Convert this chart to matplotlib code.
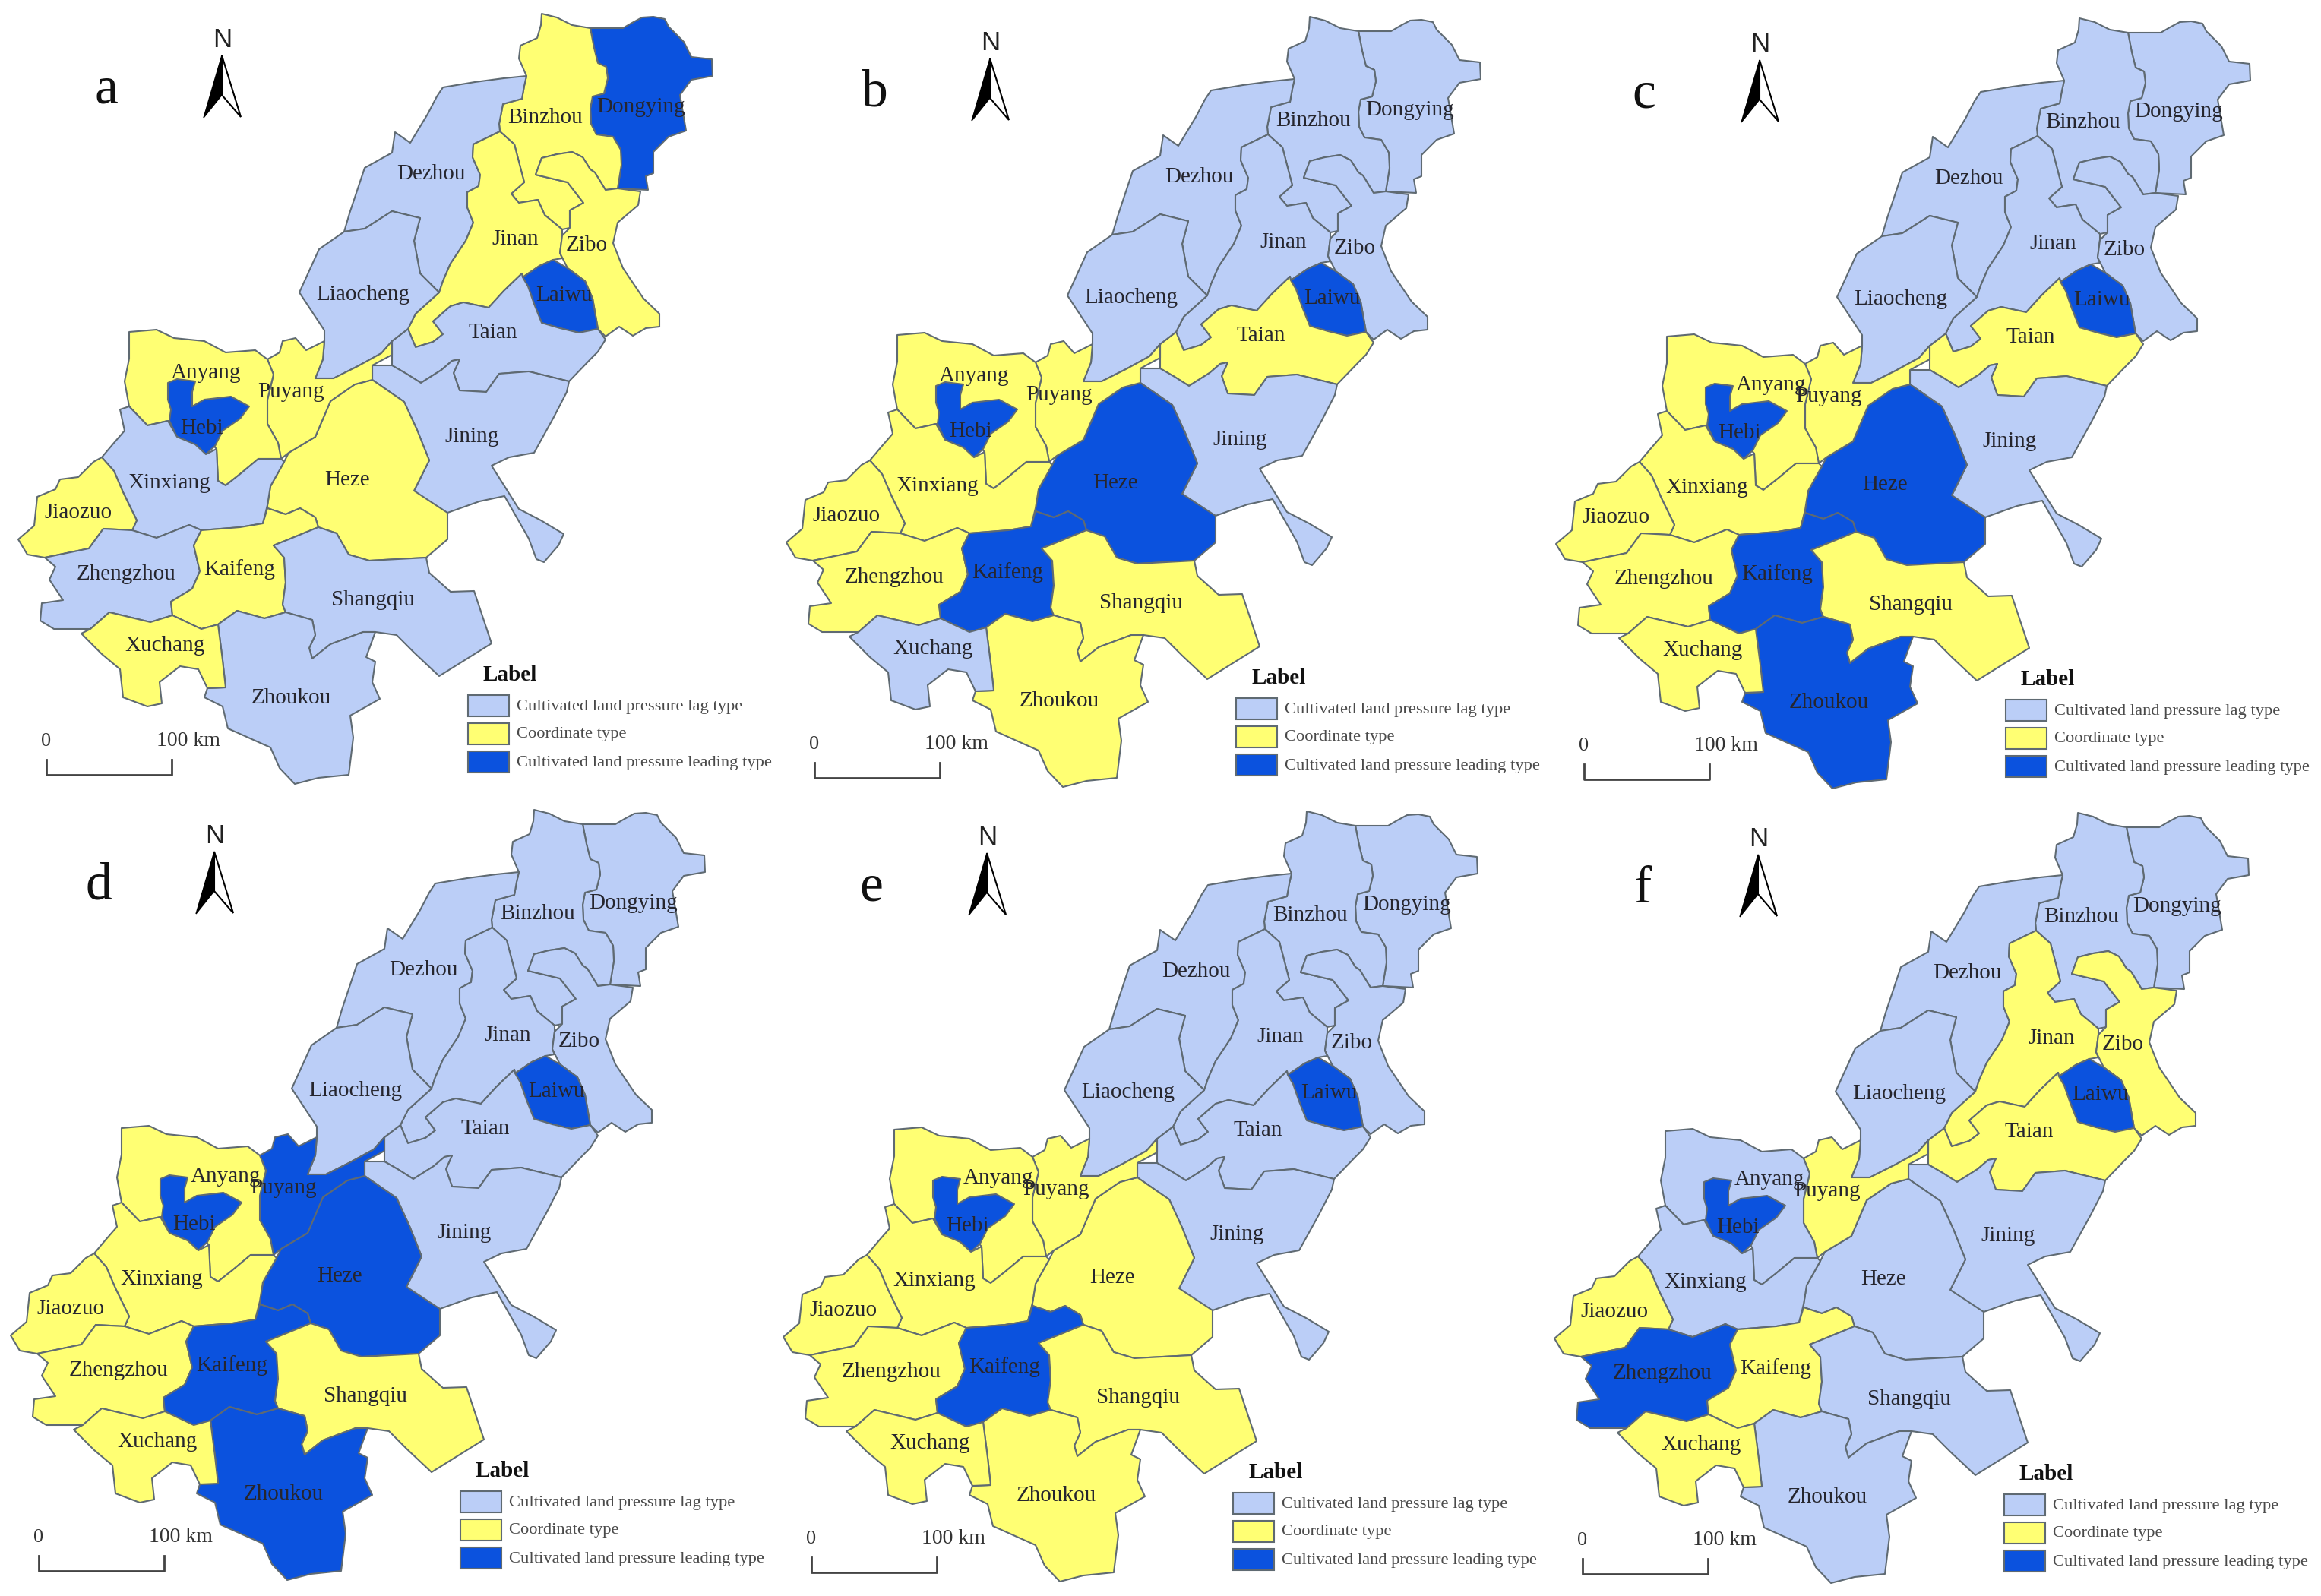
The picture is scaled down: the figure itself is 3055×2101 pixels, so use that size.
import matplotlib
matplotlib.use('Agg')
import matplotlib.pyplot as plt
from matplotlib.patches import Polygon, Rectangle

plt.rcParams['font.family'] = ['Liberation Serif', 'DejaVu Serif']

# outlines of the cities (pixels of the picture)
dongying = [(777,37),(795,37),(820,37),(832,30),(845,23),(860,22),(875,25),(880,35),(900,55),(910,75),(937,78),(938,100),
            (910,105),(895,125),(903,172),(880,180),(860,200),(860,228),(850,232),(853,250),(813,248),(818,217),(817,197),
            (807,180),(785,177),(778,163),(777,143),(780,127),(795,123),(800,103),(798,88),(787,83),(782,63)]
binzhou = [(713,18),(733,23),(753,33),(777,37),(782,63),(787,83),(798,88),(800,103),(795,123),(780,127),(777,143),(778,163),
           (785,177),(807,180),(817,197),(818,217),(813,248),(797,250),(783,227),(777,223),(767,207),(753,200),(733,203),
           (713,208),(705,230),(747,240),(768,267),(750,277),(750,300),(740,302),(717,283),(708,263),(683,267),(673,255),
           (690,240),(683,213),(677,190),(658,173),(657,163),(662,137),(687,130),(690,113),(693,100),(683,77),(685,60),
           (707,50),(712,33)]
zibo = [(813,248),(843,252),(840,270),(813,293),(807,320),(820,353),(847,393),(868,413),(868,430),(850,432),(833,442),
        (815,430),(797,443),(787,433),(780,393),(770,370),(747,353),(737,333),(740,310),(750,300),(750,277),(768,267),
        (747,240),(705,230),(713,208),(733,203),(753,200),(767,207),(777,223),(783,227),(797,250)]
laiwu = [(688,365),(710,350),(728,342),(747,353),(770,370),(780,393),(787,433),(762,438),(737,432),(713,425),(703,400),(695,377)]
jinan = [(658,173),(623,190),(622,207),(632,230),(630,245),(615,253),(615,273),(623,293),(613,317),(593,347),(583,370),
         (578,385),(547,413),(537,433),(547,457),(570,450),(583,440),(570,423),(593,403),(610,398),(643,405),(663,383),
         (687,360),(688,365),(710,350),(728,342),(740,340),(737,333),(740,310),(740,302),(717,283),(708,263),(683,267),
         (673,255),(690,240),(683,213),(677,190)]
dezhou = [(693,100),(663,103),(625,108),(583,115),(575,127),(563,150),(540,188),(520,174),(516,201),(480,221),(460,281),
          (453,305),(480,301),(516,278),(553,287),(545,317),(553,360),(578,385),(583,370),(593,347),(613,317),(623,293),
          (615,273),(615,253),(630,245),(632,230),(622,207),(623,190),(658,173),(657,163),(662,137),(687,130),(690,113)]
liaocheng = [(453,305),(480,301),(516,278),(553,287),(545,317),(553,360),(578,385),(547,413),(537,433),(516,449),(502,465),
             (471,482),(439,498),(415,498),(425,473),(427,449),(427,435),(394,385),(420,328)]
taian = [(537,433),(547,457),(570,450),(583,440),(570,423),(593,403),(610,398),(643,405),(663,383),(687,360),(688,365),
         (695,377),(703,400),(713,425),(737,432),(762,438),(787,433),(797,447),(787,463),(777,473),(749,502),(696,489),
         (657,492),(640,516),(605,514),(597,491),(605,473),(595,475),(581,487),(554,504),(535,492),(516,481),(516,467),(516,449)]
jining = [(490,481),(516,481),(535,492),(554,504),(581,487),(595,475),(605,473),(597,491),(605,514),(640,516),(657,492),
          (696,489),(749,502),(746,516),(729,549),(703,596),(670,602),(647,613),(683,670),(712,685),(742,703),(735,718),
          (716,740),(706,736),(696,709),(664,653),(631,660),(589,675),(565,665),(545,646),(565,606),(549,566),(532,529),(490,500)]
heze = [(490,500),(532,529),(549,566),(565,606),(545,646),(589,675),(589,710),(561,734),(486,738),(459,730),(443,702),
        (419,694),(415,681),(395,669),(376,677),(352,669),(352,665),(356,640),(374,608),(380,596),(415,575),(435,528),(467,506)]
puyang = [(352,473),(368,464),(372,449),(389,445),(403,461),(427,449),(425,473),(415,498),(439,498),(471,482),(502,465),
          (516,449),(516,467),(490,481),(490,500),(467,506),(435,528),(415,575),(380,596),(370,604),(366,583),(352,558),
          (352,526),(360,493)]
anyang = [(170,437),(206,434),(229,445),(269,449),(297,464),(336,461),(352,473),(360,493),(352,526),(352,558),(366,583),
          (370,604),(340,604),(316,624),(297,639),(287,633),(285,591),(275,580),(221,554),(194,560),(170,535),(164,502),(170,472)]
hebi = [(221,504),(233,499),(257,502),(253,516),(253,535),(269,526),(304,522),(328,535),(316,551),(293,567),(283,587),
        (271,598),(257,585),(233,575),(223,554),(225,539),(221,526)]
xinxiang = [(158,539),(170,535),(194,560),(221,554),(233,575),(257,585),(271,598),(285,591),(287,633),(297,639),(316,624),
            (340,604),(370,604),(374,608),(356,640),(352,665),(346,689),(316,694),(265,698),(249,691),(206,708),(174,698),
            (180,685),(162,648),(150,620),(134,602),(150,583),(164,567)]
jiaozuo = [(134,602),(150,620),(162,648),(180,685),(174,698),(136,696),(117,722),(59,734),(36,730),(24,710),(45,692),
           (49,654),(73,644),(79,631),(103,628),(123,608)]
zhengzhou = [(136,696),(174,698),(206,708),(249,691),(265,698),(255,718),(263,752),(253,775),(225,792),(227,810),(198,819),
             (144,806),(119,828),(71,828),(53,817),(55,794),(83,790),(65,763),(73,746),(59,734),(117,722)]
kaifeng = [(265,698),(316,694),(346,689),(352,669),(376,677),(395,669),(415,681),(419,694),(380,710),(360,718),(374,734),
           (376,767),(372,796),(376,806),(348,814),(312,804),(287,822),(265,828),(227,810),(225,792),(253,775),(263,752),(255,718)]
shangqiu = [(419,694),(443,702),(459,730),(486,738),(561,734),(565,754),(593,779),(624,778),(647,847),(578,890),(545,859),
            (522,836),(494,832),(478,832),(435,848),(411,867),(407,853),(415,836),(411,816),(376,806),(372,796),(376,767),
            (374,734),(360,718),(380,710)]
zhoukou = [(287,822),(312,804),(348,814),(376,806),(411,816),(415,836),(407,853),(411,867),(435,848),(478,832),(494,832),
           (482,865),(494,871),(490,898),(500,920),(461,942),(465,971),(459,1020),(419,1024),(388,1032),(368,1011),(356,984),
           (300,959),(293,930),(269,918),(273,906),(297,905),(293,869)]
xuchang = [(287,822),(293,869),(297,905),(273,906),(261,881),(237,877),(210,898),(213,926),(194,930),(162,918),(158,881),
           (134,861),(107,834),(119,828),(144,806),(198,819),(227,810),(265,828)]

names = ['Dongying', 'Binzhou', 'Dezhou', 'Jinan', 'Zibo', 'Laiwu', 'Taian', 'Liaocheng', 'Jining', 'Heze', 'Puyang',
         'Anyang', 'Hebi', 'Xinxiang', 'Jiaozuo', 'Zhengzhou', 'Kaifeng', 'Shangqiu', 'Zhoukou', 'Xuchang']
outlines = [dongying, binzhou, dezhou, jinan, zibo, laiwu, taian, liaocheng, jining, heze, puyang,
            anyang, hebi, xinxiang, jiaozuo, zhengzhou, kaifeng, shangqiu, zhoukou, xuchang]
label_x = [844, 718, 567, 678, 772, 742, 649, 478, 621, 457, 383, 271, 266, 223, 103, 166, 315, 491, 383, 217]
label_y = [141, 155, 229, 315, 323, 389, 438, 388, 575, 632, 516, 491, 564, 636, 675, 756, 750, 790, 919, 850]

# type of each city per panel, same order as names: 0 lag, 1 coordinate, 2 leading
panel_a = [2, 1, 0, 1, 1, 2, 0, 0, 0, 1, 1, 1, 2, 0, 1, 0, 1, 0, 0, 1]
panel_b = [0, 0, 0, 0, 0, 2, 1, 0, 0, 2, 1, 1, 2, 1, 1, 1, 2, 1, 1, 0]
panel_c = [0, 0, 0, 0, 0, 2, 1, 0, 0, 2, 1, 1, 2, 1, 1, 1, 2, 1, 2, 1]
panel_d = [0, 0, 0, 0, 0, 2, 0, 0, 0, 2, 2, 1, 2, 1, 1, 1, 2, 1, 2, 1]
panel_e = [0, 0, 0, 0, 0, 2, 0, 0, 0, 1, 1, 1, 2, 1, 1, 1, 2, 1, 1, 1]
panel_f = [0, 0, 0, 1, 1, 2, 1, 0, 0, 0, 1, 0, 2, 0, 1, 2, 1, 0, 0, 1]
panels = [panel_a, panel_b, panel_c, panel_d, panel_e, panel_f]
letters = ['a', 'b', 'c', 'd', 'e', 'f']
shift_x = [0, 1011, 2024, -10, 1007, 2022]
shift_y = [0, 4, 6, 1048, 1050, 1052]
anyang_moved = [False, False, True, True, True, True]

legend_names = ['Cultivated land pressure lag type', 'Coordinate type', 'Cultivated land pressure leading type']
colors = ['#BBCEF7', '#FFFF73', '#0B52DE']
edge = '#5f6a72'
text_col = '#26262e'

fig = plt.figure(figsize=(30.55, 21.01), dpi=100)
ax = fig.add_axes([0, 0, 1, 1])
ax.set_xlim(0, 3055)
ax.set_ylim(2101, 0)
ax.axis('off')

for p in range(6):
    dx = shift_x[p]
    dy = shift_y[p]

    for i in range(len(names)):
        pts = [(x + dx, y + dy) for x, y in outlines[i]]
        ax.add_patch(Polygon(pts, closed=True, facecolor=colors[panels[p][i]], edgecolor=edge, linewidth=1.5, joinstyle='round'))

    for i in range(len(names)):
        lx = label_x[i] + dx
        ly = label_y[i] + dy
        if names[i] == 'Anyang' and anyang_moved[p]:
            lx += 36
            ly += 10
        ax.text(lx, ly, names[i], fontsize=21, color=text_col, ha='center', va='center', zorder=5)

    # panel letter and north arrow
    ax.text(140 + dx, 119 + dy, letters[p], fontsize=50, color='#111111', ha='center', va='center')
    ax.text(293 + dx, 52 + dy, 'N', fontsize=25, family='Liberation Sans', color='#222222', ha='center', va='center')
    ax.add_patch(Polygon([(292 + dx, 73 + dy), (268 + dx, 155 + dy), (292 + dx, 125 + dy)], facecolor='black', edgecolor='black', linewidth=1))
    ax.add_patch(Polygon([(292 + dx, 73 + dy), (317 + dx, 154 + dy), (292 + dx, 125 + dy)], facecolor='white', edgecolor='black', linewidth=1.5))

    # scale bar
    ax.plot([61 + dx, 61 + dx, 226 + dx, 226 + dx], [1000 + dy, 1020 + dy, 1020 + dy, 1000 + dy], color='#444444', linewidth=2)
    ax.text(61 + dx, 976 + dy, '0', fontsize=19, color='#333333', ha='center', va='center')
    ax.text(248 + dx, 976 + dy, '100 km', fontsize=20, color='#333333', ha='center', va='center')

    # legend
    ax.text(636 + dx, 889 + dy, 'Label', fontsize=21, fontweight='bold', color='#111111', ha='left', va='center')
    for k in range(3):
        top = 915 + k * 37 + dy
        ax.add_patch(Rectangle((616 + dx, top), 54, 28, facecolor=colors[k], edgecolor=edge, linewidth=1.5))
        ax.text(680 + dx, top + 15, legend_names[k], fontsize=16.2, color='#4a4a4a', ha='left', va='center')

fig.savefig('out.png', dpi=100)
